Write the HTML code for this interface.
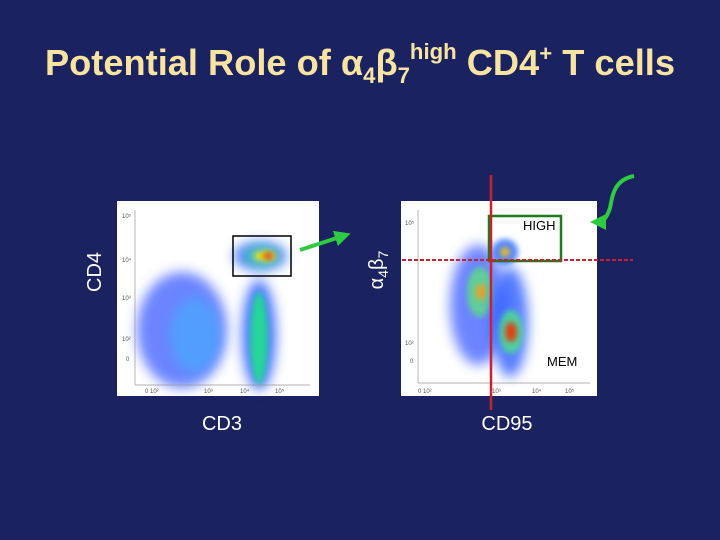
<!DOCTYPE html>
<html><head><meta charset="utf-8">
<style>
html,body{margin:0;padding:0;background:#1a2260;}
#slide{position:relative;width:720px;height:540px;background:#1a2260;overflow:hidden;font-family:"Liberation Sans",sans-serif;}
</style></head>
<body>
<div id="slide">
<svg width="720" height="540">
<defs>
<filter id="bl" x="-50%" y="-50%" width="200%" height="200%"><feGaussianBlur stdDeviation="6"/></filter>
<filter id="bl2" x="-50%" y="-50%" width="200%" height="200%"><feGaussianBlur stdDeviation="3"/></filter>
<marker id="ah" markerWidth="4" markerHeight="4" refX="2" refY="2" orient="auto" markerUnits="strokeWidth"><path d="M0,0 L4,2 L0,4 z" fill="#2ecc40"/></marker>
</defs>
<text x="45" y="75" textLength="630" lengthAdjust="spacingAndGlyphs" font-family="Liberation Sans Narrow, Liberation Sans, sans-serif" font-weight="bold" font-size="36" fill="#f8e4a0">Potential Role of α<tspan font-size="22" dy="8">4</tspan><tspan dy="-8">β</tspan><tspan font-size="22" dy="8">7</tspan><tspan font-size="22" dy="-24">high</tspan><tspan dy="16"> CD4</tspan><tspan font-size="22" dy="-14">+</tspan><tspan dy="14"> T cells</tspan></text>

<g id="left-plot">
<rect x="117" y="201" width="202" height="195" fill="#fff"/>
<g id="left-pops"></g>
<line x1="135" y1="210" x2="135" y2="385" stroke="#999" stroke-width="0.7"/>
<line x1="135" y1="385" x2="310" y2="385" stroke="#999" stroke-width="0.7"/>
<text x="122" y="218" font-size="6" fill="#555">10⁵</text><text x="122" y="262" font-size="6" fill="#555">10⁴</text><text x="122" y="300" font-size="6" fill="#555">10³</text><text x="122" y="341" font-size="6" fill="#555">10²</text><text x="126" y="361" font-size="6" fill="#555">0</text>
<text x="145" y="393" font-size="6" fill="#555">0 10²</text><text x="204" y="393" font-size="6" fill="#555">10³</text><text x="240" y="393" font-size="6" fill="#555">10⁴</text><text x="275" y="393" font-size="6" fill="#555">10⁵</text>
<rect x="233" y="236" width="58" height="40" fill="none" stroke="#000" stroke-width="1.5"/>
</g>

<g id="right-plot">
<rect x="401" y="201" width="196" height="195" fill="#fff"/>
<g id="right-pops"></g>
<line x1="418" y1="210" x2="418" y2="383" stroke="#999" stroke-width="0.7"/>
<line x1="418" y1="383" x2="590" y2="383" stroke="#999" stroke-width="0.7"/>
<text x="405" y="225" font-size="6" fill="#555">10⁵</text><text x="405" y="345" font-size="6" fill="#555">10²</text><text x="410" y="363" font-size="6" fill="#555">0</text>
<text x="418" y="393" font-size="6" fill="#555">0 10²</text><text x="492" y="393" font-size="6" fill="#555">10³</text><text x="532" y="393" font-size="6" fill="#555">10⁴</text><text x="565" y="393" font-size="6" fill="#555">10⁵</text>
<rect x="489" y="216" width="72" height="45" fill="none" stroke="#1e7a1e" stroke-width="2.5"/>
<line x1="402" y1="260" x2="633" y2="260" stroke="#cc2030" stroke-width="2" stroke-dasharray="4,2"/>
<line x1="491" y1="175" x2="491" y2="410" stroke="#cc2030" stroke-width="2.5"/>
<text x="523" y="230" font-size="13" fill="#000">HIGH</text>
<text x="547" y="366" font-size="13" fill="#000">MEM</text>
</g>

<path d="M300,250 L343,236" stroke="#2ecc40" stroke-width="4" fill="none" marker-end="url(#ah)"/>
<path d="M634,176 C612,180 612,200 610,208 C606,220 602,222 598,222" stroke="#2ecc40" stroke-width="4" fill="none" marker-end="url(#ah)"/>

<text transform="translate(101,272) rotate(-90)" text-anchor="middle" font-size="20" fill="#fff">CD4</text>
<text transform="translate(383,270) rotate(-90)" text-anchor="middle" font-size="20" fill="#fff">α<tspan font-size="14" dy="5">4</tspan><tspan dy="-5">β</tspan><tspan font-size="14" dy="5">7</tspan></text>
<text x="222" y="430" text-anchor="middle" font-size="20" fill="#fff">CD3</text>
<text x="507" y="430" text-anchor="middle" font-size="20" fill="#fff">CD95</text>
</svg>
</div>
<script>
// population blobs: [cx, cy, rx, ry, color, opacity]
const leftPops = [
 [182,330,45,58,"#3a5cff",0.75],[195,335,25,38,"#40b0ff",0.6],[259,335,17,55,"#2a5cff",0.85],[259,338,9,46,"#20e090",0.9],
 [260,256,26,14,"#3060ff",0.85],[262,256,18,9,"#40e0a0",0.9],[265,256,11,5,"#f0e020",1],[268,256,5,3,"#e02010",1]
];
const rightPops = [
 [478,305,28,60,"#3a5cff",0.75],[480,292,13,25,"#60e080",0.8],[481,292,5,8,"#f0a020",1],
 [510,322,18,55,"#2a5cff",0.8],[511,332,12,22,"#50e090",0.85],[511,332,6,10,"#e04010",1],
 [505,252,13,13,"#3070ff",0.85],[505,252,5,5,"#f0c020",1]
];
const ns="http://www.w3.org/2000/svg";
function drawPops(id,pops){
 const g=document.getElementById(id);
 pops.forEach((p,i)=>{
  const e=document.createElementNS(ns,"ellipse");
  
  
  e.setAttribute("cx",p[0]);e.setAttribute("cy",p[1]);e.setAttribute("rx",p[2]);e.setAttribute("ry",p[3]);
  e.setAttribute("fill",p[4]);e.setAttribute("opacity",p[5]);
  e.setAttribute("filter",p[2]>15?"url(#bl)":"url(#bl2)");
  g.appendChild(e);
 });
}
drawPops("left-pops",leftPops);
drawPops("right-pops",rightPops);
</script>
</body></html>
